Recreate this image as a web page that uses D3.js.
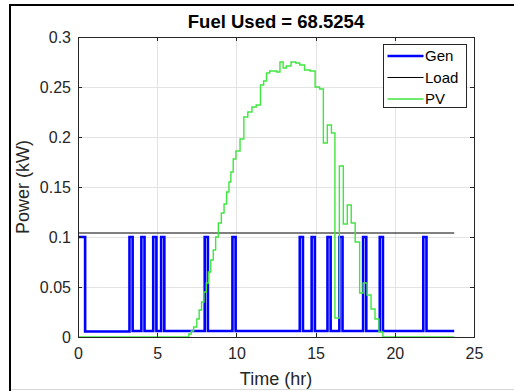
<!DOCTYPE html>
<html>
<head>
<meta charset="utf-8">
<script src="https://cdn.jsdelivr.net/npm/d3@7"></script>
<style>
  html, body { margin: 0; padding: 0; background: #ffffff; }
  svg { display: block; font-family: "Liberation Sans", Arial, Helvetica, sans-serif; }
</style>
</head>
<body>
<div id="chart"></div>
<script>
// Generator output (kW): step breakpoints, value holds until the next time
const genTime = [0, 0.45, 3.25, 3.45, 4.0, 4.2, 4.75, 4.95, 5.25, 5.45, 8.0, 8.2, 9.75, 9.95,
  14.0, 14.2, 14.75, 14.95, 15.75, 15.95, 16.5, 16.7, 18.0, 18.2, 19.05, 19.25, 21.8, 22.0, 23.75];
const genValue = [0.1, 0.0055, 0.1, 0.006, 0.1, 0.006, 0.1, 0.006, 0.1, 0.006, 0.1, 0.006, 0.1, 0.006,
  0.1, 0.006, 0.1, 0.006, 0.1, 0.006, 0.1, 0.006, 0.1, 0.006, 0.1, 0.006, 0.1, 0.006, 0.006];

// Constant load (kW)
const loadTime = [0, 23.75];
const loadValue = [0.104, 0.104];

// PV output (kW): step breakpoints
const pvTime = [0, 7.0, 7.15, 7.3, 7.5, 7.65, 7.8, 7.95, 8.1, 8.23, 8.38, 8.54, 8.69, 8.86, 9.05, 9.22,
  9.38, 9.53, 9.65, 9.8, 9.97, 10.23, 10.47, 10.72, 10.98, 11.25, 11.52, 11.72, 11.9, 12.1, 12.55, 12.75,
  12.95, 13.15, 13.45, 13.75, 14.0, 14.3, 14.65, 14.97, 15.25, 15.49, 15.74, 16.0, 16.22, 16.5, 16.75,
  17.0, 17.25, 17.5, 17.78, 18.0, 18.25, 18.5, 18.75, 19.0, 19.25, 23.75];
const pvValue = [0, 0.003, 0.006, 0.010, 0.018, 0.027, 0.035, 0.045, 0.054, 0.065, 0.077, 0.087, 0.100,
  0.114, 0.124, 0.133, 0.145, 0.155, 0.165, 0.178, 0.186, 0.198, 0.220, 0.225, 0.230, 0.232, 0.252,
  0.256, 0.264, 0.266, 0.265, 0.275, 0.269, 0.271, 0.275, 0.274, 0.272, 0.267, 0.266, 0.250, 0.248,
  0.194, 0.212, 0.204, 0.019, 0.171, 0.113, 0.132, 0.114, 0.095, 0.044, 0.054, 0.042, 0.028, 0.018,
  0.005, 0, 0];

const xTicks = [0, 5, 10, 15, 20, 25];
const yTicks = [0, 0.05, 0.1, 0.15, 0.2, 0.25, 0.3];
const titleText = "Fuel Used = 68.5254";
const xLabel = "Time (hr)";
const yLabel = "Power (kW)";
const seriesNames = ["Gen", "Load", "PV"];

const W = 514, H = 391;
const plot = { left: 78, right: 474, top: 37, bottom: 337 };
const axisColor = "#262626";

const svg = d3.select("#chart").append("svg")
  .attr("width", W).attr("height", H);

svg.append("rect").attr("width", W).attr("height", H).attr("fill", "#ffffff");

// window frame edges
svg.append("line").attr("x1", 10).attr("x2", 10).attr("y1", 4).attr("y2", H)
  .attr("stroke", "#000").attr("stroke-width", 2);
svg.append("line").attr("x1", 9).attr("x2", W).attr("y1", 5).attr("y2", 5)
  .attr("stroke", "#000").attr("stroke-width", 2);
svg.append("line").attr("x1", 11).attr("x2", W).attr("y1", 389.5).attr("y2", 389.5)
  .attr("stroke", "#d8d8d8").attr("stroke-width", 1);

const x = d3.scaleLinear().domain([0, 25]).range([plot.left, plot.right]);
const y = d3.scaleLinear().domain([0, 0.3]).range([plot.bottom, plot.top]);

// grid
const grid = svg.append("g").attr("stroke", "#e3e3e3").attr("stroke-width", 1)
  .attr("shape-rendering", "crispEdges");
grid.selectAll("line.gx").data(xTicks).join("line")
  .attr("x1", d => Math.round(x(d)) + 0.5).attr("x2", d => Math.round(x(d)) + 0.5)
  .attr("y1", plot.top).attr("y2", plot.bottom);
grid.selectAll("line.gy").data(yTicks).join("line")
  .attr("y1", d => Math.round(y(d)) + 0.5).attr("y2", d => Math.round(y(d)) + 0.5)
  .attr("x1", plot.left).attr("x2", plot.right);

// series
const toPoints = (t, v) => t.map((d, i) => [d, v[i]]);
const stepLine = d3.line().x(d => x(d[0])).y(d => y(d[1])).curve(d3.curveStepAfter);
const plain = d3.line().x(d => x(d[0])).y(d => y(d[1]));

const series = [
  { name: seriesNames[0], pts: toPoints(genTime, genValue), color: "#0000ff", width: 2.6, gen: stepLine },
  { name: seriesNames[1], pts: toPoints(loadTime, loadValue), color: "#000000", width: 1, gen: plain },
  { name: seriesNames[2], pts: toPoints(pvTime, pvValue), color: "#3fe63f", width: 1.4, gen: stepLine }
];

const clip = svg.append("clipPath").attr("id", "plotclip").append("rect")
  .attr("x", plot.left).attr("y", plot.top - 2)
  .attr("width", plot.right - plot.left).attr("height", plot.bottom - plot.top + 4);

const lines = svg.append("g").attr("clip-path", "url(#plotclip)");
series.forEach(s => {
  lines.append("path").attr("d", s.gen(s.pts))
    .attr("fill", "none").attr("stroke", s.color).attr("stroke-width", s.width)
    .attr("stroke-linejoin", "miter");
});

// axes, ticks pointing inward on all four sides
const fontTick = 16;
const xAxis = svg.append("g").attr("transform", `translate(0,${plot.bottom})`)
  .call(d3.axisBottom(x).tickValues(xTicks).tickSizeInner(-4).tickSizeOuter(0).tickPadding(11)
    .tickFormat(d3.format("d")));
const yAxis = svg.append("g").attr("transform", `translate(${plot.left},0)`)
  .call(d3.axisLeft(y).tickValues(yTicks).tickSizeInner(-4).tickSizeOuter(0).tickPadding(7)
    .tickFormat(d => d === 0 ? "0" : String(+d.toFixed(2))));
const topAxis = svg.append("g").attr("transform", `translate(0,${plot.top})`)
  .call(d3.axisTop(x).tickValues(xTicks).tickSizeInner(-4).tickSizeOuter(0).tickFormat(""));
const rightAxis = svg.append("g").attr("transform", `translate(${plot.right},0)`)
  .call(d3.axisRight(y).tickValues(yTicks).tickSizeInner(-4).tickSizeOuter(0).tickFormat(""));

[xAxis, yAxis, topAxis, rightAxis].forEach(g => {
  g.selectAll(".domain").attr("stroke", axisColor).attr("stroke-width", 1)
    .attr("shape-rendering", "crispEdges");
  g.selectAll(".tick line").attr("stroke", axisColor).attr("shape-rendering", "crispEdges");
  g.selectAll(".tick text").attr("fill", axisColor)
    .style("font-size", fontTick + "px")
    .style("font-family", '"Liberation Sans", Arial, sans-serif');
});

// title and axis labels
svg.append("text").attr("x", (plot.left + plot.right) / 2).attr("y", 28)
  .attr("text-anchor", "middle").attr("font-weight", "bold").attr("font-size", 18.5)
  .attr("fill", "#000").text(titleText);
svg.append("text").attr("x", (plot.left + plot.right) / 2).attr("y", 385)
  .attr("text-anchor", "middle").attr("font-size", 18).attr("fill", axisColor).text(xLabel);
svg.append("text")
  .attr("transform", `translate(29,${(plot.top + plot.bottom) / 2}) rotate(-90)`)
  .attr("text-anchor", "middle").attr("font-size", 18).attr("fill", axisColor).text(yLabel);

// legend
const lg = svg.append("g").attr("transform", "translate(383.5,44.5)");
lg.append("rect").attr("width", 83).attr("height", 63)
  .attr("fill", "#ffffff").attr("stroke", axisColor).attr("stroke-width", 1)
  .attr("shape-rendering", "crispEdges");
series.forEach((s, i) => {
  const yy = 11.5 + i * 21.5;
  lg.append("line").attr("x1", 4).attr("x2", 40).attr("y1", yy).attr("y2", yy)
    .attr("stroke", s.color).attr("stroke-width", s.name === "Load" ? 1 : s.width);
  lg.append("text").attr("x", 41.5).attr("y", yy).attr("dy", "0.36em")
    .attr("font-size", 15).attr("fill", "#000").text(s.name);
});
</script>
</body>
</html>
